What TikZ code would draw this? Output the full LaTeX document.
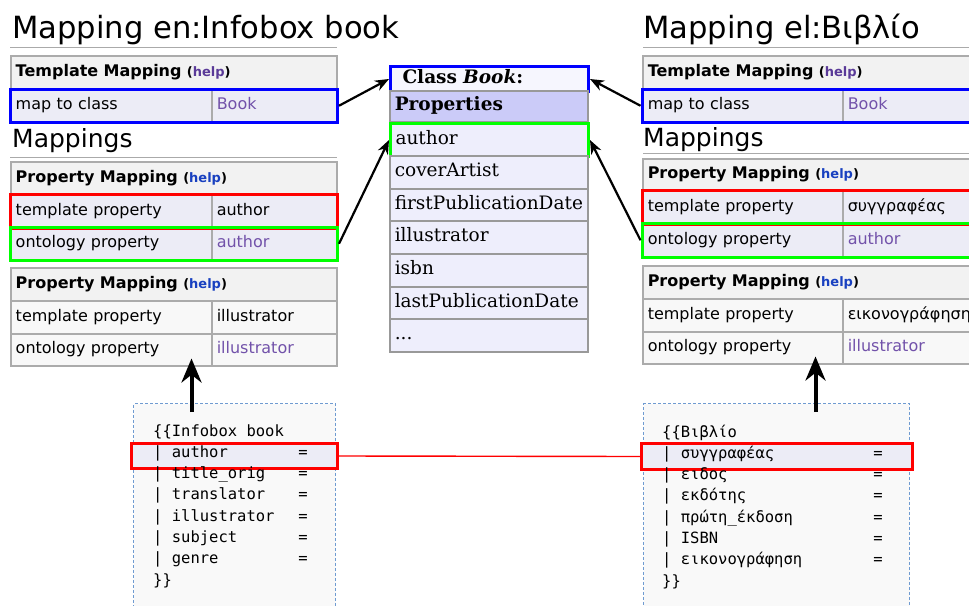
\documentclass[tikz,border=0pt]{standalone}
\usepackage{fontspec}
\setmainfont{DejaVu Sans}
\newfontfamily\clsfont{DejaVu Serif}
\newfontfamily\codefont{DejaVu Sans Mono}
\usetikzlibrary{fit,arrows.meta,calc}
\definecolor{cellborder}{HTML}{ABABAB}
\definecolor{hdrfill}{HTML}{F2F2F2}
\definecolor{hlfill}{HTML}{ECECF6}
\definecolor{rowfill}{HTML}{F8F8F8}
\definecolor{linkpurple}{HTML}{7252AA}
\definecolor{helppurple}{HTML}{5A3A98}
\definecolor{helpblue}{HTML}{1840C0}
\definecolor{clsrowfill}{HTML}{EEEEFC}
\definecolor{clspropfill}{HTML}{CBCBF8}
\definecolor{clstitlefill}{HTML}{F6F6FE}
\definecolor{clsborder}{HTML}{999999}
\definecolor{codeborder}{HTML}{6F9BD1}
\definecolor{codefill}{HTML}{F9F9F9}
\definecolor{hlblue}{HTML}{0000FF}
\definecolor{hlred}{HTML}{FF0000}
\definecolor{hlgreen}{HTML}{00FF00}
\definecolor{rulegray}{HTML}{AAAAAA}
\newcommand{\tabsize}{\fontsize{16}{19}\selectfont}
\newcommand{\helptag}[1]{{\fontsize{13}{15}\selectfont\bfseries(\textcolor{#1}{help})}}
\begin{document}
\begin{tikzpicture}[x=1pt,y=-1pt,
  cell/.style={draw=cellborder, line width=1.5pt, anchor=north west, inner xsep=5pt, inner ysep=0pt,
    text height=11.5pt, text depth=3.5pt, font=\tabsize, align=left},
  hdr/.style={cell, fill=hdrfill, font=\tabsize\bfseries},
  hlrow/.style={cell, fill=hlfill},
  plrow/.style={cell, fill=rowfill},
  hlbox/.style={draw=#1, line width=3pt, inner sep=0pt},
  clsrow/.style={draw=clsborder, line width=1.5pt, anchor=north west, inner xsep=5pt, inner ysep=0pt,
    text width=188pt, text height=13pt, text depth=4pt, font=\clsfont\fontsize{18.5}{22}\selectfont,
    align=left, fill=clsrowfill},
  codebox/.style={draw=codeborder, fill=codefill, dash pattern=on 3pt off 2pt, line width=1pt,
    anchor=north west, inner sep=0pt},
  codehl/.style={draw=hlred, fill=hlfill, line width=3pt, anchor=north west, inner sep=0pt},
  code/.style={font=\codefont\fontsize{15.5}{21}\selectfont, inner sep=0pt},
  title/.style={anchor=base west, font=\fontsize{30.6}{36}\selectfont, inner sep=0pt},
  subtitle/.style={anchor=base west, font=\fontsize{25}{29}\selectfont, inner sep=0pt},
  rule/.style={draw=rulegray, line width=1pt},
  conn/.style={line width=2.2pt, -{Stealth[length=14pt,width=11pt]}},
  upconn/.style={line width=4pt, -{Stealth[length=24pt,width=20pt]}},
  redline/.style={draw=hlred, line width=1.4pt}
]
\path[use as bounding box] (0,0) rectangle (969,605);
\clip (0,0) rectangle (969,605);

% ---------------- left side ----------------
\node[title] (ltitle) at (12,38) {Mapping en:Infobox book};
\draw[rule] (10,47) -- (337,47);
\node[hdr, text width=316pt, minimum height=34pt] (lth) at (10,55) {Template Mapping \helptag{helppurple}};
\node[hlrow, text width=191pt, minimum height=32pt] (ltk) at (10,89) {map to class};
\node[hlrow, text width=115pt, minimum height=32pt] (ltv) at (211,89) {\textcolor{linkpurple}{Book}};
\node[hlbox=hlblue, fit=(ltk)(ltv)] (lblue) {};

\node[subtitle] (lmaps) at (12,147) {Mappings};
\draw[rule] (10,157) -- (337,157);
\node[hdr, text width=316pt, minimum height=33pt] (lp1h) at (10,161) {Property Mapping \helptag{helpblue}};
\node[hlrow, text width=191pt, minimum height=33pt] (lp1r1a) at (10,194) {template property};
\node[hlrow, text width=115pt, minimum height=33pt] (lp1r1b) at (211,194) {author};
\node[hlrow, text width=191pt, minimum height=32pt] (lp1r2a) at (10,227) {ontology property};
\node[hlrow, text width=115pt, minimum height=32pt] (lp1r2b) at (211,227) {\textcolor{linkpurple}{author}};
\node[hlbox=hlred, fit=(lp1r1a)(lp1r1b)] (lred) {};
\node[hlbox=hlgreen, fit=(lp1r2a)(lp1r2b)] (lgreen) {};

\node[hdr, text width=316pt, minimum height=33pt] (lp2h) at (10,267) {Property Mapping \helptag{helpblue}};
\node[plrow, text width=191pt, minimum height=33pt] (lp2r1a) at (10,300) {template property};
\node[plrow, text width=115pt, minimum height=33pt] (lp2r1b) at (211,300) {illustrator};
\node[plrow, text width=191pt, minimum height=32pt] (lp2r2a) at (10,333) {ontology property};
\node[plrow, text width=115pt, minimum height=32pt] (lp2r2b) at (211,333) {\textcolor{linkpurple}{illustrator}};

% ---------------- right side ----------------
\node[title] (rtitle) at (643,38) {Mapping el:Βιβλίο};
\draw[rule] (643,47) -- (980,47);
\node[hdr, text width=390pt, minimum height=34pt] (rth) at (642,55) {Template Mapping \helptag{helppurple}};
\node[hlrow, text width=190pt, minimum height=32pt] (rtk) at (642,89) {map to class};
\node[hlrow, text width=190pt, minimum height=32pt] (rtv) at (842,89) {\textcolor{linkpurple}{Book}};
\node[hlbox=hlblue, fit=(rtk)(rtv)] (rblue) {};

\node[subtitle] (rmaps) at (643,146) {Mappings};
\draw[rule] (643,153) -- (980,153);
\node[hdr, text width=390pt, minimum height=32pt] (rp1h) at (642,158) {Property Mapping \helptag{helpblue}};
\node[hlrow, text width=190pt, minimum height=33pt] (rp1r1a) at (642,190) {template property};
\node[hlrow, text width=190pt, minimum height=33pt] (rp1r1b) at (842,190) {συγγραφέας};
\node[hlrow, text width=190pt, minimum height=33pt] (rp1r2a) at (642,223) {ontology property};
\node[hlrow, text width=190pt, minimum height=33pt] (rp1r2b) at (842,223) {\textcolor{linkpurple}{author}};
\node[hlbox=hlred, fit=(rp1r1a)(rp1r1b)] (rred) {};
\node[hlbox=hlgreen, fit=(rp1r2a)(rp1r2b)] (rgreen) {};

\node[hdr, text width=390pt, minimum height=33pt] (rp2h) at (642,265) {Property Mapping \helptag{helpblue}};
\node[plrow, text width=190pt, minimum height=33pt] (rp2r1a) at (642,298) {template property};
\node[plrow, text width=190pt, minimum height=33pt] (rp2r1b) at (842,298) {εικονογράφηση};
\node[plrow, text width=190pt, minimum height=32pt] (rp2r2a) at (642,331) {ontology property};
\node[plrow, text width=190pt, minimum height=32pt] (rp2r2b) at (842,331) {\textcolor{linkpurple}{illustrator}};

% ---------------- class box ----------------
\node[clsrow, fill=clstitlefill, draw=hlblue, line width=3pt, minimum height=25pt] (ct) at (389,65) {\hspace{7pt}\textbf{Class \textit{Book}:}};
\node[clsrow, fill=clspropfill, minimum height=31pt] (cp) at (389,90) {\textbf{Properties}};
\node[clsrow, draw=hlgreen, line width=3pt, minimum height=33pt] (ca) at (389,122) {author};
\node[clsrow, minimum height=33pt] (cc) at (389,155) {coverArtist};
\node[clsrow, minimum height=32pt] (cf) at (389,188) {firstPublicationDate};
\node[clsrow, minimum height=33pt] (ci) at (389,220) {illustrator};
\node[clsrow, minimum height=33pt] (cs) at (389,253) {isbn};
\node[clsrow, minimum height=32pt] (cl) at (389,286) {lastPublicationDate};
\node[clsrow, minimum height=33pt] (cd) at (389,318) {...};

% ---------------- code boxes ----------------
\node[codebox, minimum width=202pt, minimum height=260pt] (lcode) at (133,403) {};
\node[codehl, minimum width=206pt, minimum height=25pt] (lcr) at (130,442) {};
\foreach \t [count=\i] in {{\{\{Infobox book},{| author},{| title\_orig},{| translator},{| illustrator},{| subject},{| genre},{\}\}}}
  \node[code, anchor=base west] (lc\i) at (153,{436+21.3*(\i-1)}) {\t};
\foreach \i in {2,...,7}
  \node[code, anchor=base] (leq\i) at (303,{436+21.3*(\i-1)}) {=};

\node[codebox, minimum width=266pt, minimum height=260pt] (rcode) at (643,403) {};
\node[codehl, minimum width=271pt, minimum height=26pt] (rcr) at (640,442) {};
\foreach \t [count=\i] in {{\{\{Βιβλίο},{| συγγραφέας},{| ειδος},{| εκδότης},{| πρώτη\_έκδοση},{| ISBN},{| εικονογράφηση},{\}\}}}
  \node[code, anchor=base west] (rc\i) at (662,{437+21.3*(\i-1)}) {\t};
\foreach \i in {2,...,7}
  \node[code, anchor=base] (req\i) at (878,{437+21.3*(\i-1)}) {=};

% ---------------- connectors ----------------
\draw[conn] (lblue.east) -- (ct.west);
\draw[conn] (lgreen.east) -- (ca.west);
\draw[conn] (rblue.west) -- (ct.east);
\draw[conn] (rgreen.west) -- (ca.east);
\draw[redline] (lcr.east) -- (rcr.west);
\coordinate (lup) at ([xshift=-43pt,yshift=-9pt]lcode.north);
\coordinate (lupend) at (lup |- lp2r2a.south);
\draw[upconn] (lup) -- ([yshift=8pt]lupend);
\coordinate (rup) at ([xshift=39pt,yshift=-9pt]rcode.north);
\coordinate (rupend) at (rup |- rp2r2a.south);
\draw[upconn] (rup) -- ([yshift=8pt]rupend);
\end{tikzpicture}
\end{document}
